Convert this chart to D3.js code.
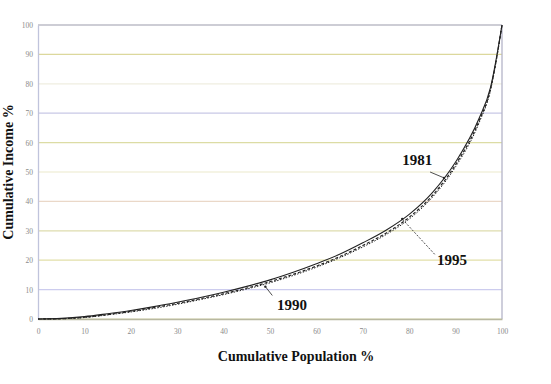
<!DOCTYPE html>
<meta charset="utf-8">
<head>
<style>
body { margin: 0; background: #fff; }
.tick text { font: 7.5px "Liberation Serif", serif; fill: #8a8a8a; }
.title { font: bold 14px "Liberation Serif", serif; fill: #111; }
.yr { font: bold 15px "Liberation Serif", serif; fill: #111; }
.curve { fill: none; stroke: #222; }
</style>
</head>
<body>
<svg width="551" height="384"></svg>
<script src="https://d3js.org/d3.v7.min.js"></script>
<script>

// cumulative population share (x) and cumulative income share for each year
var pop = [0, 5, 10, 15, 20, 25, 30, 35, 40, 45, 50, 55, 60, 65, 70, 75, 80, 85, 90, 95, 97.5, 100];
var inc1981 = [0, 0.2, 0.8, 1.8, 2.9, 4.2, 5.7, 7.3, 9.1, 11.1, 13.3, 15.9, 18.8, 22.0, 25.9, 30.2, 35.6, 43.0, 53.4, 68.0, 78.6, 100];
var inc1990 = [0, 0.1, 0.6, 1.5, 2.6, 3.9, 5.3, 6.9, 8.6, 10.5, 12.7, 15.2, 18.0, 21.2, 25.0, 29.2, 34.6, 42.0, 52.5, 67.2, 78, 100];
var inc1995 = [0, 0.1, 0.5, 1.4, 2.4, 3.6, 5.0, 6.6, 8.3, 10.2, 12.3, 14.8, 17.6, 20.8, 24.5, 28.7, 34.0, 41.4, 51.8, 66.5, 77.6, 100];
var xTicks = [0, 10, 20, 30, 40, 50, 60, 70, 80, 90, 100];
var yTicks = [0, 10, 20, 30, 40, 50, 60, 70, 80, 90, 100];

var svg = d3.select("svg"),
    margin = {top: 25, right: 49, bottom: 65, left: 38},
    width = +svg.attr("width") - margin.left - margin.right,
    height = +svg.attr("height") - margin.top - margin.bottom,
    g = svg.append("g").attr("transform", "translate(" + margin.left + "," + margin.top + ")");

var x = d3.scaleLinear().domain([0, 100]).range([0, width]);
var y = d3.scaleLinear().domain([0, 100]).range([height, 0]);

// faded gridlines, colours as they look in the scan
var gridCol = ["#d8d8b0", "#ccccee", "#e2dfa8", "#dedcae", "#ead8c8", "#eceacc", "#dcdca4", "#c8c8e6", "#efeee0", "#dcd89c", "#9c9cac"];
g.selectAll(".grid")
  .data(yTicks)
  .enter().append("line")
    .attr("x1", 0).attr("x2", width)
    .attr("y1", function(d) { return y(d); })
    .attr("y2", function(d) { return y(d); })
    .attr("stroke", function(d, i) { return gridCol[i]; })
    .attr("stroke-width", 1.2);

g.append("line")
    .attr("x1", width).attr("x2", width).attr("y1", 0).attr("y2", height)
    .attr("stroke", "#b4b4c8").attr("stroke-width", 1.3);

var xAxis = g.append("g")
    .attr("transform", "translate(0," + height + ")")
    .call(d3.axisBottom(x).tickValues(xTicks).tickSize(0).tickPadding(10));
xAxis.select(".domain").attr("stroke", "#b8b8a0").attr("stroke-width", 1.3);

var yAxis = g.append("g")
    .call(d3.axisLeft(y).tickValues(yTicks).tickSize(0).tickPadding(5));
yAxis.select(".domain").attr("stroke", "#c0c4dc").attr("stroke-width", 1.3);

var line = d3.line()
    .x(function(d) { return x(d[0]); })
    .y(function(d) { return y(d[1]); })
    .curve(d3.curveMonotoneX);

function pts(arr) { return pop.map(function(p, i) { return [p, arr[i]]; }); }

g.append("path").attr("class", "curve").attr("d", line(pts(inc1981)))
    .attr("stroke-width", 1.1);
g.append("path").attr("class", "curve").attr("d", line(pts(inc1990)))
    .attr("stroke-width", 1.2).attr("stroke-dasharray", "3,2");
g.append("path").attr("class", "curve").attr("d", line(pts(inc1995)))
    .attr("stroke-width", 1).attr("stroke-dasharray", "1.5,1.5");

// year labels with little pointer lines
var notes = [
  {t: "1981", tx: 78.5, ty: 52.5, ax: 84.5, ay: 50, bx: 87.5, by: 48},
  {t: "1995", tx: 86, ty: 18.5, ax: 85.5, ay: 22, bx: 78.5, by: 34},
  {t: "1990", tx: 51.5, ty: 3, ax: 50.5, ay: 8, bx: 49, by: 11}
];
notes.forEach(function(n, i) {
  g.append("text").attr("class", "yr")
    .attr("x", x(n.tx)).attr("y", y(n.ty))
    .text(n.t);
  g.append("line")
    .attr("x1", x(n.ax)).attr("y1", y(n.ay))
    .attr("x2", x(n.bx)).attr("y2", y(n.by))
    .attr("stroke", "#222").attr("stroke-width", 0.8)
    .attr("stroke-dasharray", i == 1 ? "2,1.5" : null);
  g.append("circle").attr("cx", x(n.bx)).attr("cy", y(n.by)).attr("r", 1.2).attr("fill", "#222");
});

svg.append("text").attr("class", "title")
    .attr("x", 296).attr("y", 361)
    .attr("text-anchor", "middle")
    .text("Cumulative Population %");

svg.append("text").attr("class", "title")
    .attr("transform", "translate(13,172) rotate(-90)")
    .attr("text-anchor", "middle")
    .text("Cumulative Income %");

</script>
</body>
</html>
